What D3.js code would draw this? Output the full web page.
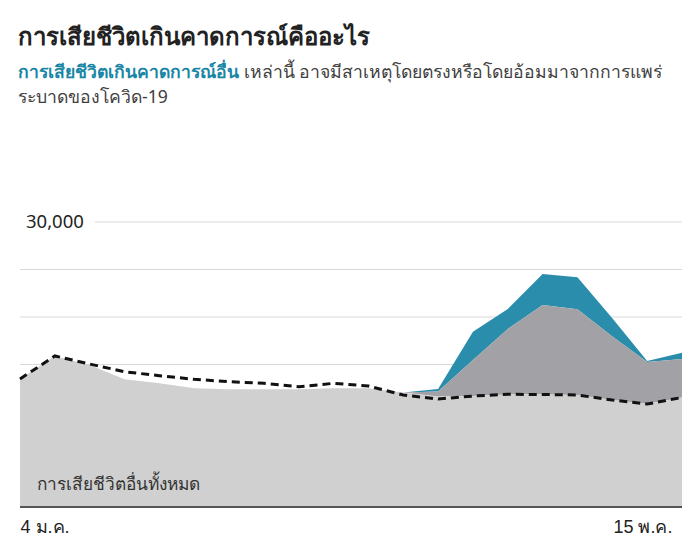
<!DOCTYPE html>
<html><head><meta charset="utf-8">
<script src="https://cdn.jsdelivr.net/npm/d3@7/dist/d3.min.js"></script>
<style>
html,body{margin:0;padding:0;background:#fff;}
svg{display:block;font-family:Tahoma,"Noto Sans","DejaVu Sans",sans-serif;}
</style></head>
<body><svg id="c" width="696" height="552"></svg>
<script>
// ---- data (weekly deaths) ----
const weeks = d3.range(20); // 20 weekly points
const weekLabels = ["4 ม.ค.", "", "", "", "", "", "", "", "", "", "", "", "", "", "", "", "", "", "", "15 พ.ค."];
const otherDeaths = [13470, 15900, 14950, 13440, 13020, 12500, 12390, 12390, 12390, 12500, 12500, 12050, 11630, 11680, 11840, 11840, 11790, 11260, 10840, 11530];
const covidDeaths = [0, 0, 0, 0, 0, 0, 0, 0, 0, 0, 0, 0, 530, 3790, 6900, 9420, 9020, 6690, 4420, 4050];
const otherExcess = [0, 0, 0, 0, 0, 0, 0, 0, 0, 0, 0, 0, 260, 2980, 2100, 3260, 3370, 1920, 110, 660];
const expected = [13470, 15900, 15050, 14240, 13820, 13440, 13190, 13020, 12660, 13020, 12740, 11790, 11370, 11680, 11860, 11840, 11790, 11260, 10840, 11530];
const yTicks = [15000, 20000, 25000, 30000];

const svg = d3.select("#c");
const x = d3.scalePoint().domain(weeks).range([20, 682]);
const y = d3.scaleLinear().domain([0, 30000]).range([507, 222]);

// title
svg.append("text").attr("x", 18).attr("y", 45)
  .attr("font-size", 24).attr("font-weight", "bold").attr("fill", "#222")
  .text("การเสียชีวิตเกินคาดการณ์คืออะไร");
const sub = svg.append("text").attr("x", 18).attr("y", 78).attr("font-size", 17.6).attr("fill", "#404040");
sub.append("tspan").attr("fill", "#1a86a6").attr("font-weight", "bold").text("การเสียชีวิตเกินคาดการณ์อื่น");
sub.append("tspan").text(" เหล่านี้ อาจมีสาเหตุโดยตรงหรือโดยอ้อมมาจากการแพร่");
svg.append("text").attr("x", 18).attr("y", 103).attr("font-size", 17.6).attr("fill", "#404040")
  .text("ระบาดของโควิด-19");

// gridlines
svg.append("g").selectAll("line").data(yTicks).join("line")
  .attr("x1", d => d === 30000 ? 95 : 20).attr("x2", 682)
  .attr("y1", d => y(d)).attr("y2", d => y(d))
  .attr("stroke", "#d9d9d9").attr("stroke-width", 1.2);
svg.append("text").attr("x", 26).attr("y", y(30000)).attr("dy", "0.35em")
  .attr("font-size", 18.5).attr("fill", "#222").text(d3.format(",")(30000));

// stacked areas
const table = weeks.map(i => ({i, other: otherDeaths[i], covid: covidDeaths[i], excess: otherExcess[i]}));
const stack = d3.stack().keys(["other", "covid", "excess"])(table);
const colors = {other: "#d0d0d0", covid: "#a2a1a6", excess: "#2b8dac"};
const area = d3.area().x(d => x(d.data.i)).y0(d => y(d[0])).y1(d => y(d[1]));
svg.append("g").selectAll("path").data(stack.slice().reverse()).join("path")
  .attr("d", area).attr("fill", d => colors[d.key]);

// expected dashed line
svg.append("path").datum(expected)
  .attr("d", d3.line().x((d, i) => x(i)).y(d => y(d)))
  .attr("fill", "none").attr("stroke", "#111").attr("stroke-width", 3)
  .attr("stroke-dasharray", "8,5");

// area label
svg.append("text").attr("x", 37).attr("y", 490).attr("font-size", 17.3).attr("fill", "#333")
  .text("การเสียชีวิตอื่นทั้งหมด");

// baseline and x labels
svg.append("line").attr("x1", 20).attr("x2", 682).attr("y1", 507).attr("y2", 507)
  .attr("stroke", "#555").attr("stroke-width", 2);
const xa = svg.append("g").attr("transform", "translate(0,508)")
  .call(d3.axisBottom(x).tickValues([0, 19]).tickSize(0).tickFormat(i => weekLabels[i]));
xa.select(".domain").remove();
xa.selectAll("text").attr("font-size", 18).attr("fill", "#222").attr("y", 25).attr("dy", 0)
  .attr("font-family", null)
  .attr("text-anchor", (d, i) => i === 0 ? "start" : "end")
  .attr("dx", (d, i) => i === 0 ? 0 : -10);
</script></body></html>
